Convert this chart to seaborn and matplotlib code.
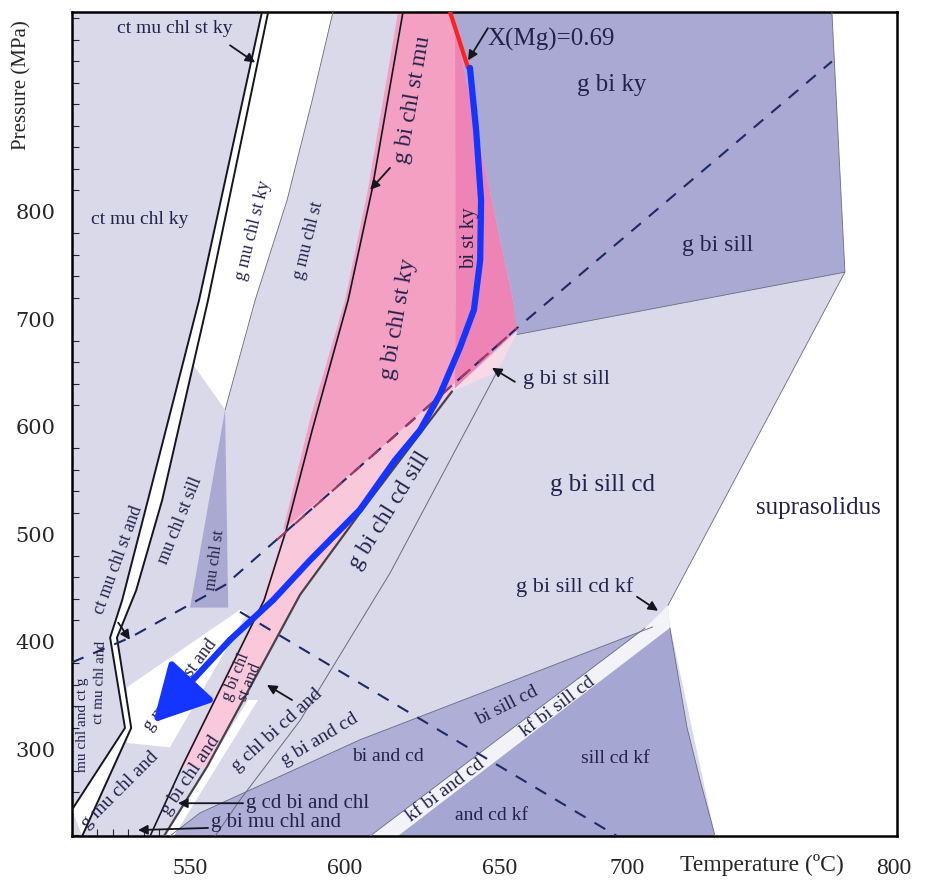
import numpy as np
import matplotlib
matplotlib.use("Agg")
import matplotlib.pyplot as plt
import seaborn as sns
from matplotlib.ticker import MultipleLocator, FixedLocator

# Límites del diagrama P-T (T en ºC, P en MPa)
t_lim = (511.9, 778.1)
p_lim = (219.5, 986.0)

# Ticks tal como aparecen en la figura
t_ticks = [550, 600, 650, 691, 777]
t_tick_labels = ["550", "600", "650", "700", "800"]
p_ticks = [300, 400, 500, 600, 700, 800]

# Campos (vértices T, P)
linea_L1 = [(573.2, 986), (552.9, 718), (536.4, 532), (528.1, 439), (524.2, 404), (529.0, 320), (511.9, 244)]
linea_L2 = [(575.2, 986), (555.8, 718), (541.0, 532), (532.6, 448), (526.4, 404), (531.0, 320), (515.2, 219.5)]
campo_g_mu_chl_st_ky = [(575.2, 986), (596.1, 986), (589.4, 904), (581.3, 811), (571.0, 718), (561.3, 616), (551.0, 658)]
campo_mu_chl_st = [(561.3, 616), (562.3, 432), (550.0, 432)]
campo_g_mu_chl_st_and = [(529.7, 358), (566.1, 430), (568.4, 427), (556.4, 367), (543.5, 302), (529.7, 306)]
campo_rosa = [(617.1, 986), (634.5, 986), (654.2, 718), (655.5, 692), (607.1, 569), (580.0, 504),
              (588.7, 607), (600.0, 718), (607.4, 821)]
campo_bi_st_ky = [(634.5, 986), (654.2, 718), (655.5, 690), (635.5, 636), (635.8, 718), (635.5, 986)]
campo_rosa_claro = [(580.0, 504), (607.1, 569), (634.5, 639), (634.5, 633), (604.8, 520), (585.5, 444),
                    (555.5, 284), (546.8, 284), (573.2, 439)]
campo_g_bi_st_sill = [(655.5, 688), (649.0, 651), (634.5, 633)]
campo_g_bi_ky = [(634.5, 986), (757.1, 986), (761.3, 744), (655.5, 686), (654.2, 718)]
campo_suprasolidus = [(757.1, 986), (778.1, 986), (778.1, 219.5), (719.4, 219.5), (704.8, 416), (704.2, 434), (761.3, 744)]
campo_bi_sill_cd = [(699.3, 414), (604.8, 309), (553.2, 241), (543.5, 219.5), (608.1, 219.5)]
campo_kf_bi_sill_cd = [(696.8, 413), (704.2, 434), (704.8, 413), (617.1, 219.5), (608.1, 219.5)]
campo_sill_cd_kf = [(704.8, 413), (617.1, 219.5), (719.4, 219.5), (714.5, 272), (710.3, 321)]
campo_g_bi_chl_and = [(568.7, 346), (571.9, 346), (544.8, 219.5), (541.6, 219.5)]

# Límites de campo
linea_L3 = [(618.7, 986), (608.7, 820.5), (601.0, 718), (589.4, 597), (581.0, 504), (573.9, 439), (547.4, 284), (537.1, 219.5)]
linea_L4 = [(634.5, 633), (604.8, 520), (585.5, 444), (555.5, 284), (541.6, 219.5)]
linea_L5 = [(649.0, 651), (614.5, 464), (585.5, 327), (566.1, 253), (558.1, 219.5)]
linea_borde_blanco = [(596.1, 986), (589.4, 904), (581.3, 811), (571.0, 718), (561.3, 616)]
linea_g_bi_sill = [(655.5, 686), (761.3, 744), (757.1, 986)]
linea_solidus = [(761.3, 744), (704.2, 434)]
linea_kf = [(704.8, 413), (710.3, 321), (714.5, 272), (719.4, 219.5)]
linea_bi_sill_cd = [(699.3, 414), (604.8, 309), (553.2, 241), (543.5, 219.5)]
linea_kf_strip = [(696.8, 413), (608.1, 219.5)]

# Líneas discontinuas (ky/sill y sill/and)
dashed_ky_sill = [(511.9, 381), (530.6, 404), (561.3, 453), (607.1, 569), (655.5, 692), (757.1, 940)]
dashed_ky_sill_rosa = [(578.0, 495), (607.1, 569), (655.5, 692)]
dashed_sill_and = [(566.1, 428), (687.7, 219.5)]

# Isopleta X(Mg) y trayectoria P-T
isopleta_xmg = [(633.9, 986), (639.7, 934)]
trayectoria_pt = [(640.3, 934), (642.3, 876), (643.9, 811), (643.6, 755), (641.6, 709), (637.1, 674),
                  (630.6, 630), (624.2, 597), (616.1, 569), (604.8, 523), (588.7, 476), (576.8, 439), (562.9, 402)]
punta_flecha = (538.1, 325)

# Etiquetas: texto, T, P, rotación, tamaño
etiquetas = [
    ("ct mu chl st ky", 545.2, 971, 0, 14),
    ("ct mu chl ky", 533.9, 793, 0, 14),
    ("g mu chl st ky", 570.3, 783, 76, 13),
    ("g mu chl st", 588.1, 774, 76, 13),
    ("g bi chl st mu", 621.9, 904, 80, 17),
    ("g bi chl st ky", 617.1, 700, 80, 17),
    ("bi st ky", 640.3, 776, 90, 15),
    ("g bi ky", 686.1, 918, 0, 18),
    ("g bi sill", 720.3, 769, 0, 17),
    ("g bi st sill", 671.3, 644, 0, 16),
    ("g bi sill cd", 683.2, 546, 0, 18),
    ("suprasolidus", 752.6, 525, 0, 18),
    ("g bi sill cd kf", 674.2, 451, 0, 16),
    ("bi sill cd", 652.3, 341, 27, 14),
    ("kf bi sill cd", 668.7, 340, 37, 14),
    ("kf bi and cd", 632.3, 262, 37, 14),
    ("sill cd kf", 687.1, 292, 0, 14),
    ("and cd kf", 647.4, 239, 0, 14),
    ("bi and cd", 613.9, 293, 0, 14),
    ("g bi and cd", 591.9, 309, 31, 14),
    ("g chl bi cd and", 578.1, 318, 42, 14),
    ("g bi chl\nst and", 567.1, 365, 68, 12),
    ("g bi chl and", 550.0, 276, 56, 14),
    ("g mu chl st and", 546.8, 360, 53, 13),
    ("g mu chl and", 527.4, 262, 45, 14),
    ("ct mu chl st and", 526.8, 476, 70, 13),
    ("mu chl st sill", 546.8, 513, 68, 13),
    ("mu chl st", 558.1, 476, 82, 12),
    ("ct mu chl and", 521.0, 362, 88, 11),
    ("mu chl and ct g", 515.2, 323, 90, 11),
    ("g bi chl cd sill", 614.5, 522, 58, 17),
]
etiquetas_izq = [
    ("X(Mg)=0.69", 645.8, 960, 18),
    ("g cd bi and chl", 568.1, 250, 15),
    ("g bi mu chl and", 556.8, 232, 15),
]
# Flechas: (cola T, P), (punta T, P)
flechas = [
    ((562.9, 955), (571.0, 939)),
    ((614.5, 841), (608.1, 820.5)),
    ((646.1, 971), (639.7, 941)),
    ((654.8, 642), (647.4, 655)),
    ((694.2, 442), (701.0, 429)),
    ((526.8, 418), (530.6, 402)),
    ((582.9, 346), (574.8, 360)),
    ((567.1, 250), (546.1, 250)),
    ((555.8, 227), (533.2, 225)),
]

sns.set_theme(style="white")
plt.rcParams["font.family"] = ["Liberation Serif", "DejaVu Serif"]

fig = plt.figure(figsize=(9.31, 8.85), dpi=100)
ax = fig.add_axes([72 / 931, 1 - 836 / 885, 825 / 931, 824 / 885])
ax.set_facecolor("#d9d9ea")

def rellenar(pts, color, z=1):
    t, p = zip(*pts)
    ax.fill(t, p, color=color, lw=0, zorder=z)

def linea(pts, **kw):
    t, p = zip(*pts)
    sns.lineplot(x=list(t), y=list(p), sort=False, estimator=None, ax=ax, **kw)

rellenar(linea_L1 + linea_L2[::-1], "white")
rellenar(campo_g_mu_chl_st_ky, "white")
rellenar(campo_mu_chl_st, "#a9a9d1")
rellenar(campo_g_mu_chl_st_and, "white")
rellenar(campo_rosa, "#f4a0c3")
rellenar(campo_bi_st_ky, "#ee84b5")
rellenar(campo_rosa_claro, "#f9c8da")
rellenar(campo_g_bi_st_sill, "#f7dae6")
rellenar(campo_g_bi_ky, "#a9a9d3")
rellenar(campo_suprasolidus, "white")
rellenar(campo_bi_sill_cd, "#aeaed6")
rellenar(campo_kf_bi_sill_cd, "#f2f2f8")
rellenar(campo_sill_cd_kf, "#a6a6d3")
rellenar(campo_g_bi_chl_and, "white")

negro = "#15151f"
gris = "#6a6a80"
linea(linea_L1, color=negro, lw=1.4, zorder=3)
linea(linea_L2, color=negro, lw=1.4, zorder=3)
linea(linea_L3, color=negro, lw=1.2, zorder=3)
linea(linea_L4, color="#4a4048", lw=1.6, zorder=3)
linea(linea_L5, color=gris, lw=0.7, zorder=3)
linea(linea_borde_blanco, color=gris, lw=0.6, zorder=3)
linea(linea_g_bi_sill, color=gris, lw=0.6, zorder=3)
linea(linea_solidus, color=gris, lw=0.6, zorder=3)
linea(linea_kf, color=gris, lw=0.6, zorder=3)
linea(linea_bi_sill_cd, color=gris, lw=0.6, zorder=3)
linea(linea_kf_strip, color=gris, lw=0.6, zorder=3)

azul_osc = "#1c2a66"
linea(dashed_ky_sill, color=azul_osc, lw=1.5, ls=(0, (6, 5)), zorder=4)
linea(dashed_ky_sill_rosa, color="#9a3a66", lw=1.6, ls=(0, (6, 5)), zorder=4)
linea(dashed_sill_and, color=azul_osc, lw=1.5, ls=(0, (6, 5)), zorder=4)

texto = "#22224a"
for txt, t, p, rot, fs in etiquetas:
    ax.text(t, p, txt, rotation=rot, fontsize=fs, color=texto, ha="center", va="center",
            rotation_mode="anchor", zorder=5, linespacing=0.9)
for txt, t, p, fs in etiquetas_izq:
    ax.text(t, p, txt, fontsize=fs, color=texto, ha="left", va="center", zorder=5)
for cola, punta in flechas:
    ax.annotate("", xy=punta, xytext=cola, zorder=5,
                arrowprops=dict(arrowstyle="-|>", color=negro, lw=1.3, mutation_scale=14,
                                shrinkA=0, shrinkB=0))

# Isopleta y trayectoria
linea(isopleta_xmg, color="#ff2020", lw=3, zorder=6)
azul = "#1434ff"
linea(trayectoria_pt, color=azul, lw=4.5, zorder=7)
ax.annotate("", xy=punta_flecha, xytext=trayectoria_pt[-1], zorder=7,
            arrowprops=dict(arrowstyle="-|>,head_length=1.4,head_width=0.75", color=azul, lw=4.5,
                            mutation_scale=25, shrinkA=0, shrinkB=0))

ax.set_xlim(t_lim)
ax.set_ylim(p_lim)
ax.xaxis.set_major_locator(FixedLocator(t_ticks))
ax.set_xticklabels(t_tick_labels)
ax.xaxis.set_minor_locator(MultipleLocator(5))
ax.yaxis.set_major_locator(FixedLocator(p_ticks))
ax.yaxis.set_minor_locator(MultipleLocator(20))
ax.tick_params(axis="x", which="major", length=0, pad=16, labelsize=17)
ax.tick_params(axis="y", which="major", direction="in", length=7, width=1, pad=12, labelsize=15)
ax.tick_params(which="minor", direction="in", length=5, width=0.8, bottom=True, left=True)
for lab in ax.get_yticklabels():
    lab.set_fontfamily("DejaVu Serif")
for sp in ax.spines.values():
    sp.set_color("black")
    sp.set_linewidth(1.8)
ax.set_xlabel("")
ax.set_ylabel("")
ax.text(0.836, -0.035, "Temperature (ºC)", transform=ax.transAxes, ha="center", va="center", fontsize=17)
ax.text(-0.061, 0.911, "Pressure (MPa)", transform=ax.transAxes, rotation=90, ha="center", va="center", fontsize=15)

plt.savefig("out.png", dpi=100)
